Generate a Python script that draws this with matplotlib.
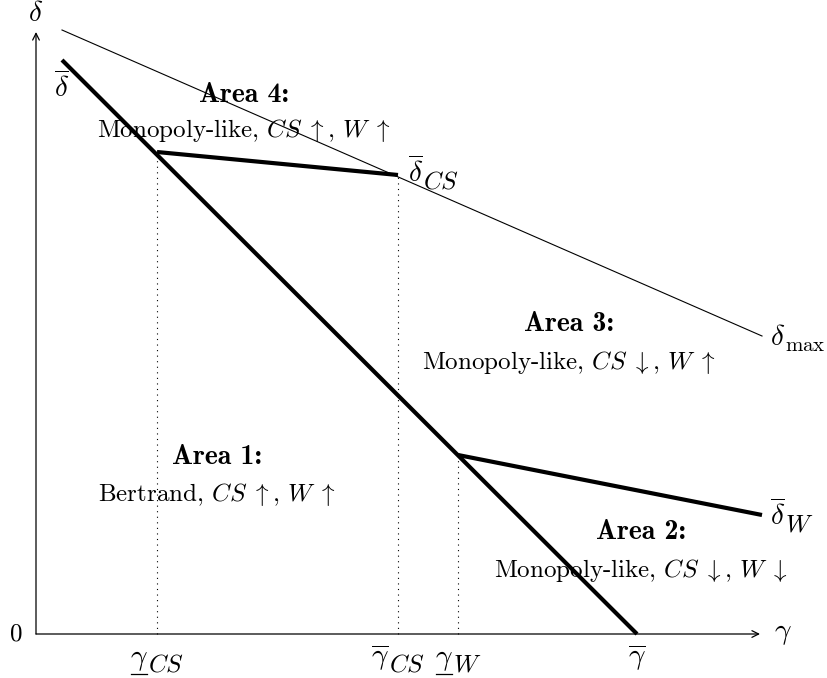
import matplotlib.pyplot as plt
from matplotlib.transforms import offset_copy

plt.rcParams['mathtext.fontset'] = 'cm'
plt.rcParams['font.family'] = 'cmr10'
plt.rcParams['axes.unicode_minus'] = False

# thresholds on the gamma axis
gamma_ticks = [1.21, 3.62, 4.22, 6.01]
gamma_main = [r'$\gamma$', r'$\overline{\gamma}$', r'$\gamma$', r'$\overline{\gamma}$']
gamma_subs = ['CS', 'CS', 'W', None]
gamma_under = [True, False, True, False]

# curves (gamma, delta)
dbar_g = [0.26, 6.01]
dbar_d = [5.74, 0.0]
dmax_g = [0.26, 7.26]
dmax_d = [6.04, 2.98]
dcs_g = [1.21, 3.62]
dcs_d = [4.82, 4.59]
dw_g = [4.22, 7.26]
dw_d = [1.79, 1.19]

areas = [
    ('Area 4:', r'Monopoly-like, $CS\;\uparrow$, $W\;\uparrow$', 2.08, 5.39, 5.03),
    ('Area 3:', r'Monopoly-like, $CS\;\downarrow$, $W\;\uparrow$', 5.33, 3.10, 2.72),
    ('Area 1:', r'Bertrand, $CS\;\uparrow$, $W\;\uparrow$', 1.81, 1.77, 1.40),
    ('Area 2:', r'Monopoly-like, $CS\;\downarrow$, $W\;\downarrow$', 6.05, 1.02, 0.64),
]

fig = plt.figure(figsize=(8.28, 6.78), dpi=100)
ax = fig.add_axes([0, 0, 1, 1])
ax.set_xlim(-0.36, 7.92)
ax.set_ylim(-0.44, 6.34)
ax.axis('off')
renderer = fig.canvas.get_renderer()


def symbol(x, y, main, sub=None, ha='left', under=False, size=21, subsize=18, drop=5):
    '''main symbol with a large subscript, baseline at y'''
    t1 = ax.text(x, y, main, fontsize=size, ha='left', va='baseline')
    w1 = t1.get_window_extent(renderer).width / 100
    w2 = 0
    t2 = None
    if sub:
        tr = offset_copy(ax.transData, fig=fig, y=-drop, units='points')
        t2 = ax.text(x, y, '$' + sub + '$', fontsize=subsize, ha='left',
                     va='baseline', transform=tr)
        w2 = t2.get_window_extent(renderer).width / 100
    x0 = x - (w1 + w2) / 2 if ha == 'center' else x
    t1.set_x(x0)
    if t2 is not None:
        t2.set_x(x0 + w1)
    if under:
        bb = t1.get_window_extent(renderer)
        inv = ax.transData.inverted()
        (ux0, uy), (ux1, _) = inv.transform([(bb.x0 + 1, bb.y0 - 1), (bb.x1 - 1, bb.y0 - 1)])
        ax.plot([ux0, ux1], [uy, uy], color='black', lw=0.9)


# axes with arrows
arr = dict(arrowstyle='->', lw=0.9, color='black', shrinkA=0, shrinkB=0, mutation_scale=12)
ax.annotate('', xy=(7.24, 0), xytext=(0, 0), arrowprops=arr)
ax.annotate('', xy=(0, 6.02), xytext=(0, 0), arrowprops=arr)

ax.plot(dmax_g, dmax_d, color='black', lw=0.8)
ax.plot(dbar_g, dbar_d, color='black', lw=3, solid_capstyle='butt')
ax.plot(dcs_g, dcs_d, color='black', lw=3, solid_capstyle='butt')
ax.plot(dw_g, dw_d, color='black', lw=3, solid_capstyle='butt')

tops = [dcs_d[0], dcs_d[1], dw_d[0]]
for g, top in zip(gamma_ticks[:3], tops):
    ax.plot([g, g], [0, top], color='black', lw=0.8, ls=(0, (1, 4)))

for g, m, s, u in zip(gamma_ticks, gamma_main, gamma_subs, gamma_under):
    symbol(g, -0.31, m, s, ha='center', under=u)

ax.text(-0.2, 0, '0', fontsize=18, ha='center', va='center')
ax.text(7.38, 0.0, r'$\gamma$', fontsize=21, ha='left', va='center')
ax.text(0.0, 6.2, r'$\delta$', fontsize=21, ha='center', va='center')
ax.text(0.26, 5.46, r'$\overline{\delta}$', fontsize=21, ha='center', va='center')
symbol(3.72, 4.52, r'$\overline{\delta}$', 'CS')
symbol(7.34, 2.89, r'$\delta$', r'\mathrm{max}', subsize=15, drop=4)
symbol(7.34, 1.09, r'$\overline{\delta}$', 'W')

for title, desc, x, y1, y2 in areas:
    ax.text(x, y1, title, fontsize=20, ha='center', va='center', family='cmb10')
    ax.text(x, y2, desc, fontsize=18, ha='center', va='center')

fig.savefig('out.png', dpi=100)
